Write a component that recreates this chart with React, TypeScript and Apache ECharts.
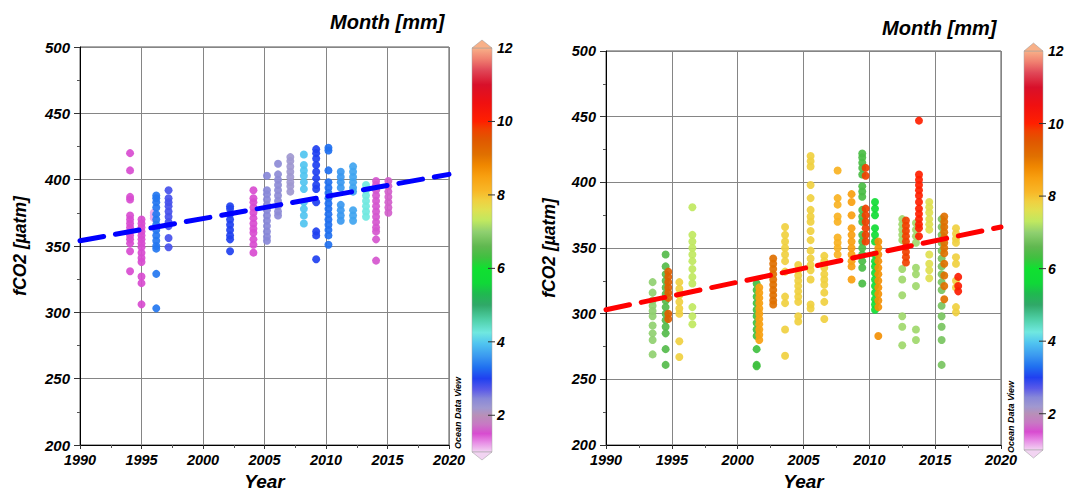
import React, { useEffect, useRef } from "react";
import * as echarts from "echarts";

// ---------------- DATA ----------------
// Left panel: columns of fCO2 samples (year, month, values)
const leftYears = [1994.07, 1995.0, 1996.0, 1996.2, 1997.2, 2002.2, 2004.1, 2005.2, 2006.1, 2007.1, 2008.2, 2009.2, 2010.2, 2011.2, 2012.2, 2013.25, 2014.07, 2015.07];
const leftMonths = [1.5, 1.5, 1.15, 3.35, 2.8, 3.0, 1.5, 2.45, 2.4, 2.2, 3.95, 3.0, 3.3, 3.6, 3.7, 4.25, 1.55, 1.6];
const leftValues = [
  [420, 407, 387, 385, 373, 370, 367, 364, 361, 358, 355, 352, 346, 331],
  [370, 367, 364, 361, 358, 355, 352, 349, 345, 341, 338, 327, 322, 306],
  [375, 373, 371],
  [388, 386, 383, 379, 374, 370, 366, 362, 358, 354, 350, 348, 329, 303],
  [392, 386, 383, 380, 376, 372, 368, 365, 356, 349],
  [380, 378, 374, 370, 366, 362, 358, 355, 346],
  [392, 386, 383, 379, 375, 371, 367, 363, 360, 355, 351, 345],
  [403, 392, 389, 385, 381, 377, 373, 369, 365, 361, 357, 354],
  [412, 404, 400, 396, 392, 388, 384, 380, 376, 373],
  [417, 414, 410, 406, 402, 398, 395, 391],
  [419, 411, 407, 403, 398, 393, 383, 378, 373, 367],
  [423, 420, 416, 411, 406, 401, 396, 393, 383, 361, 358, 340],
  [424, 422, 407, 398, 394, 390, 386, 382, 378, 374, 370, 366, 362, 358, 351],
  [406, 402, 398, 394, 381, 377, 373, 369],
  [410, 406, 402, 398, 394, 391, 377, 373, 369],
  [396, 392, 388, 384, 380, 376, 372],
  [399, 396, 392, 388, 384, 380, 376, 372, 368, 364, 361, 355, 339],
  [399, 395, 391, 387, 383, 379, 375],
];
const leftTrend = [[1990, 354], [2020, 404]];

// Right panel
const rightYears = [1993.54, 1994.53, 1994.73, 1995.57, 1996.56, 2001.44, 2001.64, 2002.7, 2003.6, 2004.6, 2005.54, 2006.58, 2007.59, 2008.65, 2009.46, 2009.72, 2010.43, 2010.68, 2012.5, 2012.78, 2013.54, 2013.77, 2014.55, 2015.49, 2015.69, 2016.58, 2016.75];
const rightMonths = [7.0, 6.5, 9.4, 7.85, 7.3, 6.3, 8.5, 9.1, 7.85, 7.85, 7.85, 7.85, 8.2, 8.5, 6.4, 9.8, 5.8, 8.7, 7.1, 9.8, 7.1, 10.0, 7.6, 6.8, 9.1, 7.85, 10.1];
const rightValues = [
  [324, 316, 310, 306, 302, 298, 291, 285, 280, 269],
  [345, 336, 330, 325, 320, 315, 310, 305, 300, 295, 290, 285, 273, 261],
  [332, 328, 324, 320, 316, 312, 300, 296],
  [324, 319, 314, 309, 304, 300, 279, 267],
  [381, 360, 355, 350, 345, 340, 334, 328, 323, 305, 298, 292],
  [323, 318, 313, 308, 303, 298, 293, 288, 283, 273, 261, 260],
  [320, 316, 312, 308, 304, 300, 296, 292, 288, 284, 280],
  [342, 338, 334, 330, 326, 322, 318, 314, 310, 307],
  [366, 360, 355, 350, 345, 340, 332, 313, 308, 288, 268],
  [337, 333, 329, 325, 321, 317, 313, 309, 298, 294],
  [420, 416, 412, 398, 388, 379, 374, 370, 363, 356, 348, 342, 337, 333, 326, 307, 304],
  [344, 340, 335, 330, 326, 322, 316, 309, 296],
  [409, 388, 383, 374, 370, 358, 354, 350, 345],
  [391, 385, 375, 365, 360, 355, 350, 345, 340, 336, 326],
  [422, 419, 415, 411, 406, 397, 393, 389, 379, 374, 370, 360, 355, 350, 345, 340, 335, 323],
  [411, 405, 380, 375, 370, 365, 360, 355],
  [385, 380, 375, 365, 360, 355, 345, 340, 336, 331, 326, 321, 316, 311, 307, 303],
  [355, 350, 345, 340, 335, 330, 325, 320, 315, 310, 305, 283],
  [372, 368, 364, 360, 356, 334, 326, 314, 298, 290, 276],
  [371, 367, 363, 359, 355, 351, 347, 343, 339],
  [369, 364, 359, 354, 335, 330, 321, 288, 280],
  [447, 406, 402, 398, 394, 390, 385, 380, 376, 372, 368, 365, 359],
  [385, 381, 377, 372, 368, 364, 345, 338, 333, 327],
  [372, 366, 360, 354, 348, 342, 336, 330, 324, 318, 306, 298, 290, 280, 261],
  [374, 370, 366, 362, 358, 354, 350, 346, 338, 329, 321, 311],
  [365, 361, 357, 354, 343, 338, 325, 320, 305, 301],
  [328, 321, 317],
];
const rightTrend = [[1990, 303], [2020, 366]];

const colorbarTicks = [2, 4, 6, 8, 10, 12];
const monthMin = 1;
const monthMax = 12;

// Colour scale (month -> colour), ODV-like palette
const scaleMonths = [1.0, 1.25, 1.5, 1.75, 2.0, 2.2, 2.45, 2.7, 3.0, 3.3, 3.6, 3.95, 4.25, 4.6, 5.0, 5.3, 5.6, 6.0, 6.3, 6.6, 7.0, 7.3, 7.6, 7.85, 8.1, 8.5, 8.8, 9.1, 9.5, 9.8, 10.0, 10.5, 11.0, 11.4, 11.7, 12.0];
const scaleColors = ["#f2d4f2", "#e890e6", "#d84cd0", "#c878c4", "#b890b8", "#a098d0", "#8888d8", "#5a5ae8", "#2040f0", "#2070f0", "#3a98f0", "#50c4f0", "#70e8e0", "#50d0a8", "#30a868", "#20b850", "#10d838", "#10e030", "#40c040", "#60b850", "#90d070", "#c0e860", "#e0e050", "#f0d040", "#f8b828", "#f8a010", "#f08800", "#e07000", "#e05800", "#f04000", "#ff2000", "#f01010", "#d8102a", "#e04858", "#f08070", "#f8b088"];

// ---------------- HELPERS ----------------
const FF = "'Liberation Sans', Arial, sans-serif";

function hexToRgb(h: string) {
  const n = parseInt(h.slice(1), 16);
  return [(n >> 16) & 255, (n >> 8) & 255, n & 255];
}
function monthColor(m: number) {
  if (m <= scaleMonths[0]) return scaleColors[0];
  for (let i = 1; i < scaleMonths.length; i++) {
    if (m <= scaleMonths[i]) {
      const t = (m - scaleMonths[i - 1]) / (scaleMonths[i] - scaleMonths[i - 1]);
      const a = hexToRgb(scaleColors[i - 1]);
      const b = hexToRgb(scaleColors[i]);
      const c = a.map((v, k) => Math.round(v + (b[k] - v) * t));
      return `rgb(${c[0]},${c[1]},${c[2]})`;
    }
  }
  return scaleColors[scaleColors.length - 1];
}

function buildPoints(years: number[], months: number[], values: number[][]) {
  const out: number[][] = [];
  years.forEach((y, i) => values[i].forEach((v) => out.push([y, v, months[i]])));
  return out;
}

function colorbar(x0: number, w: number, yTop: number, yBot: number, odvX: number, odvY: number) {
  const els: any[] = [];
  const yOf = (v: number) => yTop + ((monthMax - v) / (monthMax - monthMin)) * (yBot - yTop);
  const stops = scaleMonths
    .map((m, i) => ({ offset: (monthMax - m) / (monthMax - monthMin), color: scaleColors[i] }))
    .sort((a, b) => a.offset - b.offset);
  els.push({
    type: "rect",
    shape: { x: x0, y: yTop, width: w, height: yBot - yTop },
    style: { fill: new echarts.graphic.LinearGradient(0, 0, 0, 1, stops), stroke: "#aaa", lineWidth: 0.5 },
  });
  els.push({
    type: "polygon",
    shape: { points: [[x0, yTop], [x0 + w, yTop], [x0 + w / 2, yTop - 8]] },
    style: { fill: scaleColors[scaleColors.length - 1], stroke: "#999", lineWidth: 0.5 },
  });
  els.push({
    type: "polygon",
    shape: { points: [[x0, yBot], [x0 + w, yBot], [x0 + w / 2, yBot + 8]] },
    style: { fill: scaleColors[0], stroke: "#999", lineWidth: 0.5 },
  });
  colorbarTicks.forEach((t) => {
    const y = yOf(t);
    if (t < monthMax) {
      els.push({ type: "line", shape: { x1: x0 + w - 4, y1: y, x2: x0 + w + 3, y2: y }, style: { stroke: "#333", lineWidth: 1 } });
    }
    els.push({
      type: "text",
      x: x0 + w + 5,
      y,
      style: { text: String(t), font: `italic bold 14px ${FF}`, fill: "#000", align: "left", verticalAlign: "middle" },
    });
  });
  els.push({
    type: "text",
    x: odvX,
    y: odvY,
    rotation: Math.PI / 2,
    style: { text: "Ocean Data View", font: `italic bold 9px ${FF}`, fill: "#000", align: "center", verticalAlign: "middle" },
  });
  return els;
}

export default function App() {
  const ref = useRef<HTMLDivElement>(null);
  useEffect(() => {
    if (!ref.current) return;
    const chart = echarts.init(ref.current, null, { renderer: "svg" });
    const labelFont = { fontFamily: FF, fontWeight: "bold" as const, fontStyle: "italic" as const, color: "#000" };
    const grids = [
      { left: 80, top: 47, width: 369, height: 402 },
      { left: 606, top: 51, width: 395, height: 398 },
    ];
    const option: any = {
      animation: false,
      backgroundColor: "#fff",
      grid: grids.map((g) => ({ ...g, show: true, borderColor: "#555", borderWidth: 1, backgroundColor: "transparent" })),
      xAxis: [0, 1].map((i) => ({
        type: "value",
        gridIndex: i,
        min: 1990,
        max: 2020,
        interval: 5,
        axisLine: { show: true, onZero: false, lineStyle: { color: "#000", width: 1 } },
        axisTick: { show: true, length: 4, lineStyle: { color: "#333" } },
        minorTick: { show: true, splitNumber: 2, length: 3, lineStyle: { color: "#555" } },
        splitLine: { show: true, lineStyle: { color: "#858585", width: 1 } },
        axisLabel: { ...labelFont, fontSize: 14.5, margin: 7, formatter: (v: number) => String(v) },
        name: "Year",
        nameLocation: "middle",
        nameGap: 27,
        nameTextStyle: { ...labelFont, fontSize: 19 },
      })),
      yAxis: [0, 1].map((i) => ({
        type: "value",
        gridIndex: i,
        min: 200,
        max: 500,
        interval: 50,
        axisLine: { show: true, onZero: false, lineStyle: { color: "#000", width: 1 } },
        axisTick: { show: true, length: 6, lineStyle: { color: "#333" } },
        minorTick: { show: true, splitNumber: 2, length: 3, lineStyle: { color: "#555" } },
        splitLine: { show: true, lineStyle: { color: "#858585", width: 1 } },
        axisLabel: { ...labelFont, fontSize: i === 0 ? 15 : 14.5, margin: 10, formatter: (v: number) => String(v) },
        name: "fCO2 [µatm]",
        nameLocation: "middle",
        nameRotate: 90,
        nameGap: i === 0 ? 51 : 48,
        nameTextStyle: { ...labelFont, fontSize: 17.5 },
      })),
      series: [
        {
          type: "scatter",
          xAxisIndex: 0,
          yAxisIndex: 0,
          symbolSize: 8,
          silent: true,
          data: buildPoints(leftYears, leftMonths, leftValues),
          itemStyle: { color: (p: any) => monthColor(p.data[2]), opacity: 0.92 },
        },
        {
          type: "line",
          xAxisIndex: 0,
          yAxisIndex: 0,
          data: leftTrend,
          symbol: "none",
          silent: true,
          z: 5,
          lineStyle: { color: "#0000ff", width: 5, type: [24, 12], cap: "round" },
        },
        {
          type: "scatter",
          xAxisIndex: 1,
          yAxisIndex: 1,
          symbolSize: 8,
          silent: true,
          data: buildPoints(rightYears, rightMonths, rightValues),
          itemStyle: { color: (p: any) => monthColor(p.data[2]), opacity: 0.92 },
        },
        {
          type: "line",
          xAxisIndex: 1,
          yAxisIndex: 1,
          data: rightTrend,
          symbol: "none",
          silent: true,
          z: 5,
          lineStyle: { color: "#ff0000", width: 5, type: [24, 12], cap: "round" },
        },
      ],
      graphic: [
        {
          type: "text",
          x: 330,
          y: 22,
          style: { text: "Month [mm]", font: `italic bold 20px ${FF}`, fill: "#000", align: "left", verticalAlign: "middle" },
        },
        {
          type: "text",
          x: 882,
          y: 28,
          style: { text: "Month [mm]", font: `italic bold 20px ${FF}`, fill: "#000", align: "left", verticalAlign: "middle" },
        },
        ...colorbar(472, 20, 48, 452, 458, 413),
        ...colorbar(1024, 19, 51, 450, 1011, 417),
      ],
    };
    chart.setOption(option);
    return () => chart.dispose();
  }, []);
  return (
    <div
      ref={ref}
      style={{ position: "absolute", left: 0, top: 0, width: 1066, height: 496, background: "#fff" }}
    />
  );
}
